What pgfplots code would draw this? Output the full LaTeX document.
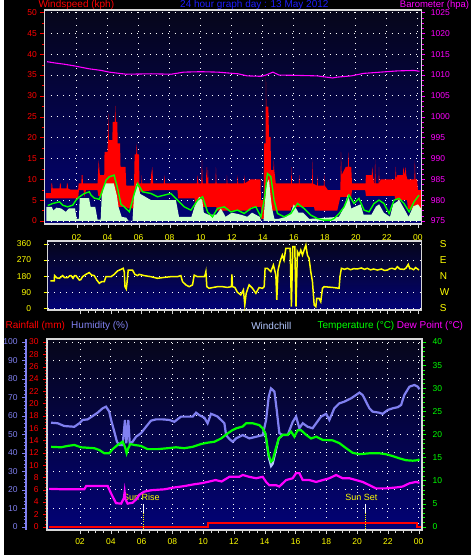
\documentclass[border=0pt]{standalone}
\usepackage{fontspec}
\setmainfont{Liberation Sans}
\usepackage{pgfplots}
\pgfplotsset{compat=1.18}
\definecolor{bgtop}{RGB}{6,6,26}
\definecolor{bgbot}{RGB}{2,2,118}
\definecolor{framec}{RGB}{215,215,215}
\definecolor{pale}{RGB}{204,255,204}
\definecolor{humc}{RGB}{128,128,240}
\definecolor{wchill}{RGB}{180,200,255}
\definecolor{grn}{RGB}{0,255,0}
\definecolor{mag}{RGB}{255,0,255}
\definecolor{yel}{RGB}{255,255,0}
\definecolor{ttlblue}{RGB}{30,30,255}
\newcommand\tf{\fontsize{8.5}{9}\selectfont}
\newcommand\hf{\fontsize{10}{11}\selectfont}
\newcommand\hfs{\fontsize{9.5}{10}\selectfont}
\newcommand\sunf{\fontsize{9}{10}\selectfont}
\pgfplotsset{
  base/.style={scale only axis, anchor=north west,
    /pgf/number format/assume math mode=true,
    /pgf/number format/1000 sep={},
    tick label style={font=\tf},
    tick align=outside,
    major tick length=4pt, minor tick length=2.5pt,
    axis line style={framec, line width=1.6pt},
    grid style={white, line width=0.9pt, dash pattern=on 0.9pt off 5.3pt},
  },
  bgshade/.style={axis background/.style={top color=bgtop, bottom color=bgbot}},
}
\begin{document}
\begin{tikzpicture}
\fill[black] (0pt,0pt) rectangle (467pt,555pt);
% ---------- headers
\node[anchor=base west, inner sep=0, red, font=\hf] at (34pt,547pt) {Windspeed (kph)};
\node[anchor=base, inner sep=0, ttlblue, font=\hf] at (250pt,547pt) {24 hour graph day : 13 May 2012};
\node[anchor=base east, inner sep=0, mag, font=\hfs] at (465pt,547.6pt) {Barometer (hpa)};
\node[anchor=west, inner sep=0, red, font=\hf] at (1pt,229pt) {Rainfall (mm)};
\node[anchor=west, inner sep=0, humc, font=\hf] at (66.7pt,229pt) {Humidity (\%)};
\node[anchor=west, inner sep=0, wchill, font=\hf] at (246.7pt,229pt) {Windchill};
\node[anchor=west, inner sep=0, grn, font=\hf] at (313pt,229pt) {Temperature (°C)};
\node[anchor=west, inner sep=0, mag, font=\hf] at (392.3pt,229pt) {Dew Point (°C)};

% ---------- TOP PANEL: wind
\begin{axis}[base, bgshade, at={(40pt,545pt)}, width=377pt, height=214pt,
  xmin=-0.08, xmax=24.22, ymin=-0.72, ymax=50.6,
  tick pos=left, grid=major,
  xtick={2,4,...,24}, xticklabels={02,04,06,08,10,12,14,16,18,20,22,00},
  minor x tick num=3,
  ytick={0,5,...,50}, minor y tick num=1,
  yticklabel style={red}, ytick style={red},
  xticklabel style={yel, yshift=-3pt}, xtick style={framec}]
% gust band: upper envelope, then lower envelope backwards
\addplot[fill=red, draw=none, forget plot] table {
0.00 6.7
0.35 6.7
0.38 9.0
0.42 9.0
0.45 7.8
0.90 7.8
0.93 9.0
0.97 9.0
1.00 7.8
1.35 7.8
1.38 9.0
1.42 9.0
1.45 7.8
1.60 7.5
2.10 7.5
2.13 9.0
2.30 9.0
2.33 11.0
2.38 11.0
2.41 9.0
3.35 9.0
3.42 14.6
3.50 11.0
3.78 11.0
3.80 16.6
4.00 16.6
4.04 25.8
4.08 19.4
4.30 19.4
4.33 23.8
4.46 23.8
4.49 27.6
4.53 23.8
4.62 23.8
4.65 18.6
4.80 18.6
4.83 13.0
5.15 13.0
5.20 8.5
5.70 8.5
5.74 16.0
5.84 16.0
5.87 18.6
5.91 16.0
6.02 16.0
6.05 9.0
6.17 9.0
6.20 11.0
6.23 9.0
6.77 9.0
6.80 11.0
6.88 13.0
6.93 9.0
7.62 9.0
7.66 11.0
7.70 9.0
9.75 9.0
9.80 11.0
9.85 9.0
10.04 9.0
10.08 14.8
10.12 9.0
10.34 9.0
10.37 13.0
10.42 9.0
10.46 13.0
10.50 9.0
10.95 9.0
10.98 13.0
11.02 9.0
11.66 9.0
11.69 11.0
11.72 9.0
12.35 9.0
12.38 11.0
12.41 9.0
12.78 9.0
12.81 11.0
12.84 9.0
13.23 10.0
13.85 10.0
13.88 5.0
14.06 5.0
14.09 18.6
14.18 18.6
14.20 35.0
14.23 27.4
14.36 27.4
14.40 20.2
14.50 20.2
14.53 12.2
14.68 12.2
14.71 14.6
14.74 12.2
14.84 9.0
15.82 9.0
15.85 13.0
15.88 9.0
16.32 9.0
16.35 11.0
16.38 9.0
17.17 9.0
17.20 14.8
17.23 9.0
17.50 8.5
17.52 11.0
17.55 8.5
17.93 8.5
17.96 11.0
17.99 8.5
18.20 7.4
19.00 7.4
19.04 16.6
19.08 11.0
19.35 13.0
19.49 13.0
19.52 16.6
19.56 13.0
19.70 13.0
19.75 9.0
20.62 9.0
20.65 11.0
21.02 11.0
21.06 13.0
21.10 11.0
21.17 9.0
21.21 9.0
21.24 14.8
21.28 9.0
21.46 9.0
21.49 13.0
21.52 9.0
21.60 10.0
22.53 10.0
22.57 13.0
22.61 10.0
22.67 11.0
23.03 11.0
23.06 13.0
23.14 11.0
23.21 13.0
23.25 11.0
23.32 10.0
23.77 10.0
23.80 14.6
23.84 10.0
23.95 10.0
24.00 7.4
24.20 7.4
24.20 2.0
23.35 3.0
23.30 5.0
22.55 5.0
22.50 6.0
20.65 6.0
20.60 7.4
19.75 7.4
19.70 5.8
19.00 5.8
18.80 2.5
17.35 2.5
17.30 3.4
15.85 3.4
15.80 2.5
14.55 2.5
14.50 4.0
14.12 4.0
14.08 0.5
13.90 0.5
13.88 3.4
13.25 3.4
13.20 2.5
11.05 2.5
11.00 3.4
9.65 3.4
9.60 5.4
8.55 5.4
8.50 7.4
7.00 7.4
6.05 7.0
6.00 5.8
5.75 5.8
5.70 3.0
5.25 3.0
5.20 3.4
4.65 3.4
4.60 6.0
3.40 6.0
3.35 7.4
2.60 7.4
2.50 5.8
2.45 7.4
2.15 7.4
2.10 5.4
0.00 5.4
} -- cycle;
\addplot[fill=pale, draw=none, forget plot] table {
0.05 3.4
0.40 3.4
0.50 2.5
0.70 3.2
1.00 3.0
1.30 2.2
1.50 3.0
1.90 3.0
2.00 0.5
2.15 0.5
2.20 5.5
2.80 5.5
2.90 3.4
3.20 3.4
3.35 0.3
3.55 0.3
3.62 6.0
3.80 9.0
4.40 9.0
4.60 6.0
4.70 3.4
4.90 1.0
5.20 0.8
5.35 0.0
5.60 0.0
5.70 6.0
5.85 9.0
6.00 8.0
6.10 6.5
6.80 5.0
8.40 5.0
8.50 3.0
8.60 1.0
9.40 1.0
9.60 3.4
9.90 5.8
10.10 5.0
10.20 2.0
10.50 1.5
11.00 1.5
11.30 3.0
11.60 1.0
12.00 2.0
12.60 1.5
13.00 1.0
13.30 2.0
13.80 1.0
13.90 0.0
14.05 0.0
14.10 3.0
14.25 9.0
14.40 10.0
14.50 6.0
14.60 3.0
14.75 0.5
15.00 0.5
15.50 1.0
15.80 2.0
16.00 4.0
16.30 2.0
16.60 2.0
17.00 0.5
18.90 1.0
19.20 3.0
19.50 6.5
19.70 3.0
20.00 3.5
20.30 4.0
20.50 1.5
21.00 1.5
21.30 3.5
21.50 4.0
21.80 2.0
22.20 1.0
22.40 4.0
22.80 5.0
23.10 3.0
23.40 1.0
23.70 3.5
24.00 4.0
24.20 3.0
} \closedcycle;
\addplot[grn, line width=1.4pt] table {
0.14 3.7
0.46 4.2
0.89 4.6
1.10 3.8
1.42 3.4
1.75 3.8
1.96 5.0
2.18 5.8
2.50 6.6
2.82 7.0
2.93 6.2
3.14 5.5
3.46 5.2
3.79 8.6
3.90 9.8
4.10 10.6
4.42 11.0
4.64 7.8
4.86 4.0
5.07 3.4
5.40 2.2
5.72 6.6
5.93 9.0
6.25 7.0
6.79 6.6
7.22 5.8
7.65 6.2
8.08 6.6
8.50 5.0
8.94 3.4
9.37 2.6
9.80 5.0
10.12 5.8
10.44 2.2
10.76 1.0
11.08 3.0
11.51 3.4
11.94 2.2
12.37 2.6
12.80 1.8
13.23 3.0
13.55 3.4
13.88 1.0
14.09 5.0
14.30 11.4
14.52 10.6
14.73 5.0
14.95 1.8
15.38 1.0
15.81 1.8
16.24 4.2
16.66 3.0
17.10 1.4
17.52 0.6
17.95 0.2
18.38 0.2
18.60 0.6
18.92 1.8
19.24 3.4
19.56 6.2
19.88 4.2
20.20 5.4
20.53 2.6
20.85 2.2
21.17 4.2
21.49 5.0
21.81 4.2
22.14 1.8
22.46 5.0
22.78 5.4
23.10 4.2
23.43 2.2
23.75 4.6
24.07 6.2
};
\end{axis}
% ---------- TOP PANEL: barometer
\begin{axis}[base, at={(40pt,545pt)}, width=377pt, height=214pt,
  xmin=-0.08, xmax=24.22, ymin=974.28, ymax=1025.6,
  axis x line=none, axis y line*=right,
  ytick={975,980,...,1025}, minor y tick num=3,
  yticklabel style={mag, xshift=2pt}, ytick style={mag}]
\addplot[mag, line width=1.1pt] table {
0.10 1013.2
0.60 1012.9
1.20 1012.6
1.85 1012.2
2.25 1011.9
2.80 1011.5
3.60 1011.1
4.10 1010.7
4.75 1010.4
5.20 1010.2
6.80 1010.3
8.10 1010.2
8.90 1010.7
10.00 1010.8
11.10 1010.7
12.40 1010.3
13.00 1009.8
13.90 1009.7
14.20 1010.0
14.65 1010.7
15.05 1010.0
16.45 1009.9
17.50 1009.8
18.50 1009.3
18.80 1009.5
19.70 1009.8
20.50 1010.4
21.60 1010.7
22.70 1011.0
23.75 1011.1
24.10 1010.9
};
\end{axis}

% ---------- MIDDLE PANEL: wind direction
\begin{axis}[base, bgshade, at={(43.3pt,314pt)}, width=373.7pt, height=69.3pt,
  xmin=-0.1, xmax=24.2, ymin=-11.2, ymax=376.8,
  tick pos=left, ymajorgrids,
  xtick={2,4,...,24}, xticklabels={}, minor x tick num=3, xtick style={framec},
  ytick={0,90,180,270,360},
  yticklabel style={yel, xshift=-9pt}, ytick style={yel}]
\addplot[yel, line width=1.5pt] table {
0.07 153
0.33 153
0.35 183
0.50 170
0.66 168
0.87 183
1.00 172
1.20 172
1.35 183
1.42 183
1.55 168
1.65 183
1.74 183
1.96 158
2.05 160
2.17 177
2.39 190
2.60 200
2.76 186
2.93 183
3.10 158
3.26 140
3.41 149
3.58 149
3.69 177
4.02 177
4.23 190
4.44 209
4.67 218
4.81 224
4.88 205
4.93 121
5.01 108
5.05 134
5.14 214
5.42 214
5.57 190
5.74 183
5.85 190
6.18 183
6.61 177
7.04 168
7.48 173
7.91 177
8.34 177
8.56 183
8.67 149
8.89 131
9.10 121
9.32 131
9.43 186
9.64 177
10.08 177
10.15 190
10.19 205
10.25 121
10.40 112
10.62 116
10.94 121
11.27 121
11.59 117
11.85 121
11.88 190
11.92 121
12.07 117
12.24 90
12.46 75
12.63 103
12.72 19
12.81 84
13.00 131
13.22 112
13.44 84
13.65 116
13.87 112
13.98 121
14.04 224
14.19 224
14.41 205
14.58 242
14.74 186
14.80 47
14.88 214
15.01 261
15.16 298
15.27 270
15.39 336
15.67 336
15.75 9
15.84 345
15.97 345
16.05 9
16.14 317
16.25 298
16.36 326
16.47 298
16.69 354
16.79 298
16.90 280
17.01 205
17.12 149
17.23 19
17.34 9
17.40 56
17.55 56
17.66 37
17.77 112
17.87 121
18.52 116
18.85 112
18.91 177
19.00 224
19.20 218
19.39 224
19.60 216
19.80 222
20.04 220
20.30 226
20.50 218
20.69 224
20.90 215
21.10 220
21.34 214
21.60 220
21.80 212
21.99 214
22.15 222
22.31 224
22.50 218
22.64 233
22.80 220
23.07 218
23.20 225
23.35 246
23.45 222
23.51 224
23.70 216
23.83 228
24.05 214
};
\end{axis}
\begin{axis}[base, at={(43.3pt,314pt)}, width=373.7pt, height=69.3pt,
  xmin=-0.1, xmax=24.2, ymin=-11.2, ymax=376.8,
  axis x line=none, axis y line*=right, major tick length=0pt,
  ytick={0,90,180,270,360}, yticklabels={S,W,N,E,S},
  yticklabel style={yel, font=\hf, xshift=15pt}]
\addplot[draw=none] coordinates {(0,0)};
\end{axis}

% ---------- BOTTOM PANEL: rain (left axis, background, grid)
\begin{axis}[base, bgshade, at={(42.7pt,216pt)}, width=375pt, height=191pt,
  xmin=-0.14, xmax=24.22, ymin=-0.54, ymax=30.49,
  tick pos=left, xmajorgrids,
  xtick={2,4,...,24}, xticklabels={02,04,06,08,10,12,14,16,18,20,22,00},
  minor x tick num=3, xticklabel style={yel, yshift=-1pt}, xtick style={framec},
  ytick={0,2,...,30}, minor y tick num=3,
  yticklabel style={red, xshift=-1pt}, ytick style={red},
  extra y ticks={3,6,...,30}, extra y tick labels={},
  extra y tick style={grid=major, major tick length=0pt}]
\addplot[red, line width=2.2pt] coordinates {(0,0)(10.3,0)(10.3,0.6)(23.87,0.6)(23.87,0)(24.2,0)};
\addplot[white, line width=1pt] coordinates {(6.13,3.69)(6.13,2.3)};
\addplot[yel, line width=0.8pt, dash pattern=on 1pt off 1.2pt] coordinates {(6.13,2.3)(6.13,-0.5)};
\addplot[white, line width=1pt] coordinates {(20.52,3.69)(20.52,2.3)};
\addplot[yel, line width=0.8pt, dash pattern=on 1pt off 1.2pt] coordinates {(20.52,2.3)(20.52,-0.5)};
\node[yel, font=\sunf, inner sep=0] at (axis cs:5.98,4.82) {Sun Rise};
\node[yel, font=\sunf, inner sep=0] at (axis cs:20.28,4.82) {Sun Set};
\end{axis}
% humidity (hidden overlay)
\begin{axis}[base, at={(42.7pt,216pt)}, width=375pt, height=191pt,
  xmin=-0.14, xmax=24.22, ymin=-1.79, ymax=101.62, hide axis]
\addplot[humc, line width=2.2pt] table {
0.12 56.3
0.55 56.0
0.98 54.5
1.63 54.1
1.96 56.0
2.17 57.8
2.50 58.1
2.82 59.9
3.14 61.7
3.47 64.1
3.69 65.0
3.90 62.3
4.02 57.8
4.23 51.4
4.40 46.0
4.55 44.2
4.77 44.2
4.92 57.8
5.01 45.2
5.14 57.8
5.23 45.2
5.42 46.0
5.64 48.7
5.96 50.6
6.29 54.1
6.61 57.4
6.94 58.1
7.37 58.1
7.80 57.8
8.13 56.8
8.56 59.6
8.99 59.6
9.32 59.6
9.54 61.7
9.75 60.4
10.08 59.0
10.29 56.0
10.51 61.1
10.73 60.4
10.94 59.6
11.16 57.8
11.38 56.0
11.49 49.6
11.70 47.5
11.92 46.0
12.14 47.8
12.57 49.6
13.00 47.8
13.44 48.7
13.87 49.6
14.09 57.8
14.26 70.4
14.41 74.9
14.63 73.1
14.78 63.2
14.95 50.6
15.17 49.6
15.49 49.6
15.82 56.8
16.04 59.6
16.25 53.3
16.47 56.0
16.79 54.1
17.11 53.3
17.34 56.0
17.66 59.6
17.99 61.1
18.20 57.8
18.52 64.1
18.85 66.8
19.17 67.7
19.61 69.5
19.93 71.3
20.15 72.6
20.36 71.3
20.58 67.7
20.80 64.1
21.01 62.3
21.45 61.7
21.66 61.1
21.99 63.2
22.31 64.1
22.64 64.7
22.86 65.9
23.07 71.3
23.40 75.8
23.72 76.7
23.94 75.8
24.05 74.4
};
\end{axis}
% temperature, windchill, dew point (right axis)
\begin{axis}[base, at={(42.7pt,216pt)}, width=375pt, height=191pt,
  xmin=-0.14, xmax=24.22, ymin=-0.71, ymax=40.65,
  axis x line=none, axis y line*=right,
  ytick={0,5,...,40}, minor y tick num=4,
  yticklabel style={grn, xshift=3pt}, ytick style={grn}]
\addplot[wchill, line width=2pt] table {
13.87 21.3
14.04 20.2
14.13 18.0
14.26 15.0
14.41 13.1
14.52 13.6
14.69 16.0
14.91 19.1
15.17 19.9
};
\addplot[grn, line width=2.2pt] table {
0.12 17.3
0.77 17.2
1.20 17.5
1.63 17.7
2.07 17.2
2.50 17.1
2.93 17.0
3.26 16.6
3.58 15.9
3.90 15.9
4.12 16.8
4.44 17.7
4.77 18.4
4.92 17.3
5.03 15.9
5.14 17.0
5.27 17.9
5.53 17.7
5.96 17.5
6.39 16.8
7.04 16.8
7.69 17.0
8.24 17.2
8.78 17.0
9.32 17.3
9.86 17.9
10.29 18.2
10.73 18.4
11.16 19.1
11.59 20.2
11.85 20.8
12.14 21.3
12.57 21.7
12.79 22.4
13.22 22.4
13.65 22.0
13.87 21.3
14.04 20.2
14.13 18.4
14.26 15.5
14.41 14.1
14.52 14.4
14.69 16.6
14.91 19.1
15.17 19.9
15.49 19.9
15.71 20.6
15.93 19.5
16.14 20.9
16.36 20.9
16.69 19.9
17.01 19.1
17.34 19.5
17.77 18.8
18.41 18.7
18.85 18.1
19.29 17.0
19.71 16.0
20.15 15.7
20.80 15.9
21.45 15.9
21.88 15.7
22.31 15.3
22.75 14.8
23.18 14.4
23.61 14.3
23.94 14.4
24.05 14.6
};
\addplot[mag, line width=2.2pt] table {
0.00 8.2
1.00 8.1
2.28 8.1
2.40 8.8
3.80 8.8
4.02 7.2
4.34 5.1
4.67 5.0
4.85 6.2
4.90 7.5
4.95 6.0
5.09 5.0
5.42 5.2
5.64 5.9
5.85 6.9
6.18 7.6
6.61 7.9
7.48 8.1
8.13 8.5
8.78 8.8
9.43 9.2
9.86 9.4
10.29 9.7
10.80 10.1
11.20 9.8
11.70 10.8
12.35 10.8
12.57 11.2
13.00 10.8
13.44 10.5
13.87 10.8
14.09 9.7
14.30 9.0
14.73 9.0
14.95 8.7
15.39 10.1
15.82 10.5
16.04 11.6
16.25 11.6
16.47 10.1
16.90 10.1
17.34 9.7
17.77 10.1
18.20 10.5
18.64 11.2
19.06 10.5
19.50 10.5
19.93 10.1
20.36 9.7
20.80 9.0
21.23 8.3
21.88 8.3
22.53 8.5
22.96 8.7
23.40 9.4
23.83 9.7
24.05 9.5
};
\end{axis}
% humidity scale axis
\begin{axis}[base, at={(21.7pt,216pt)}, width=10pt, height=191pt,
  xmin=0, xmax=1, ymin=-1.79, ymax=101.62,
  axis x line=none, axis y line*=left,
  axis line style={humc, line width=1.6pt},
  ytick={0,10,...,100}, minor y tick num=4,
  yticklabel style={humc, xshift=-1pt}, ytick style={humc}]
\addplot[draw=none] coordinates {(0,0)};
\end{axis}
\end{tikzpicture}
\end{document}
